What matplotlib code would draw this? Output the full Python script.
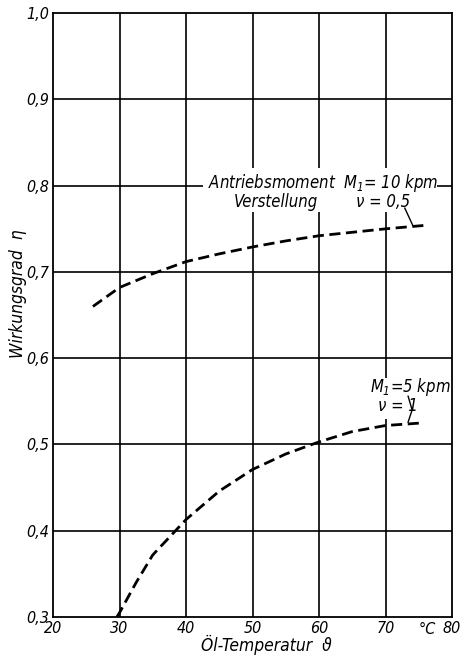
import matplotlib
matplotlib.use("Agg")
import matplotlib.pyplot as plt
from matplotlib import font_manager
from matplotlib.patches import Rectangle

# Daten
temp_10 = [26, 30, 35, 40, 45, 50, 55, 60, 65, 70, 75.9]
eta_10 = [0.660, 0.682, 0.698, 0.712, 0.721, 0.729, 0.736, 0.742, 0.746, 0.750, 0.754]

temp_5 = [29.6, 30, 32.5, 35, 40, 45, 50, 55, 60, 65, 70, 75.5]
eta_5 = [0.300, 0.305, 0.340, 0.372, 0.413, 0.446, 0.471, 0.489, 0.503, 0.515, 0.522, 0.525]

x_ticks = [20, 30, 40, 50, 60, 70, 80]
y_ticks = [0.3, 0.4, 0.5, 0.6, 0.7, 0.8, 0.9, 1.0]
y_labels = ["0,3", "0,4", "0,5", "0,6", "0,7", "0,8", "0,9", "1,0"]

# schmale Schrift suchen, sonst Liberation Sans
narrow = None
for f in font_manager.fontManager.ttflist:
    if 'Narrow' in f.name or 'Condensed' in f.name or f.stretch in ('condensed', 'semi-condensed'):
        narrow = f.name
        break
family = [narrow] if narrow else []
plt.rcParams['font.family'] = family + ['Liberation Sans', 'DejaVu Sans']
plt.rcParams['font.style'] = 'italic'
plt.rcParams['font.stretch'] = 'condensed'

fig = plt.figure(figsize=(4.61, 6.59), dpi=100)
ax = fig.add_axes([0.115, 0.0637, 0.8655, 0.9163])
ax.set_xlim(20, 80)
ax.set_ylim(0.3, 1.0)

# Gitter
for x in x_ticks[1:-1]:
    ax.axvline(x, color='black', lw=1.2, zorder=1)
for y in y_ticks[1:-1]:
    ax.axhline(y, color='black', lw=1.2, zorder=1)
for s in ax.spines.values():
    s.set_linewidth(1.3)

ax.set_xticks(x_ticks)
ax.set_xticklabels([str(x) for x in x_ticks])
ax.set_yticks(y_ticks)
ax.set_yticklabels(y_labels)
ax.tick_params(length=0, labelsize=11.5, pad=3)

# weisse Flaechen hinter den Beschriftungen
ax.add_patch(Rectangle((42.6, 0.770), 35.1, 0.050, facecolor='white',
                       edgecolor='none', zorder=2))
ax.add_patch(Rectangle((68.7, 0.530), 9.9, 0.047, facecolor='white',
                       edgecolor='none', zorder=2))

ax.text(60.6, 0.803, "Antriebsmoment  $M_1$= 10 kpm", ha='center', va='center',
        fontsize=12, zorder=3)
ax.text(53.6, 0.7815, "Verstellung", ha='center', va='center', fontsize=12, zorder=3)
ax.text(69.6, 0.7815, "ν = 0,5", ha='center', va='center', fontsize=12, zorder=3)
ax.text(73.7, 0.567, "$M_1$=5 kpm", ha='center', va='center', fontsize=12, zorder=3)
ax.text(71.8, 0.545, "ν = 1", ha='center', va='center', fontsize=12, zorder=3)

# Kurven
ax.plot(temp_10, eta_10, color='black', lw=2.0, ls=(0, (4, 2)), zorder=4)
ax.plot(temp_5, eta_5, color='black', lw=2.0, ls=(0, (4, 2)), zorder=4)

# Hinweislinien
ax.plot([72.9, 74.1], [0.774, 0.754], color='black', lw=1.0, zorder=4)
ax.plot([73.4, 74.0, 73.4], [0.556, 0.540, 0.526], color='black', lw=1.0, zorder=4)

fig.text(0.926, 1 - 629 / 659, "°C", ha='center', va='center', fontsize=11.5)

fig.text(0.040, 0.555, "Wirkungsgrad  η", rotation=90, ha='center', va='center',
         fontsize=12.5)
fig.text(0.578, 0.021, "Öl-Temperatur  ϑ", ha='center', va='center', fontsize=12.5)

fig.savefig("out.png", dpi=100)
